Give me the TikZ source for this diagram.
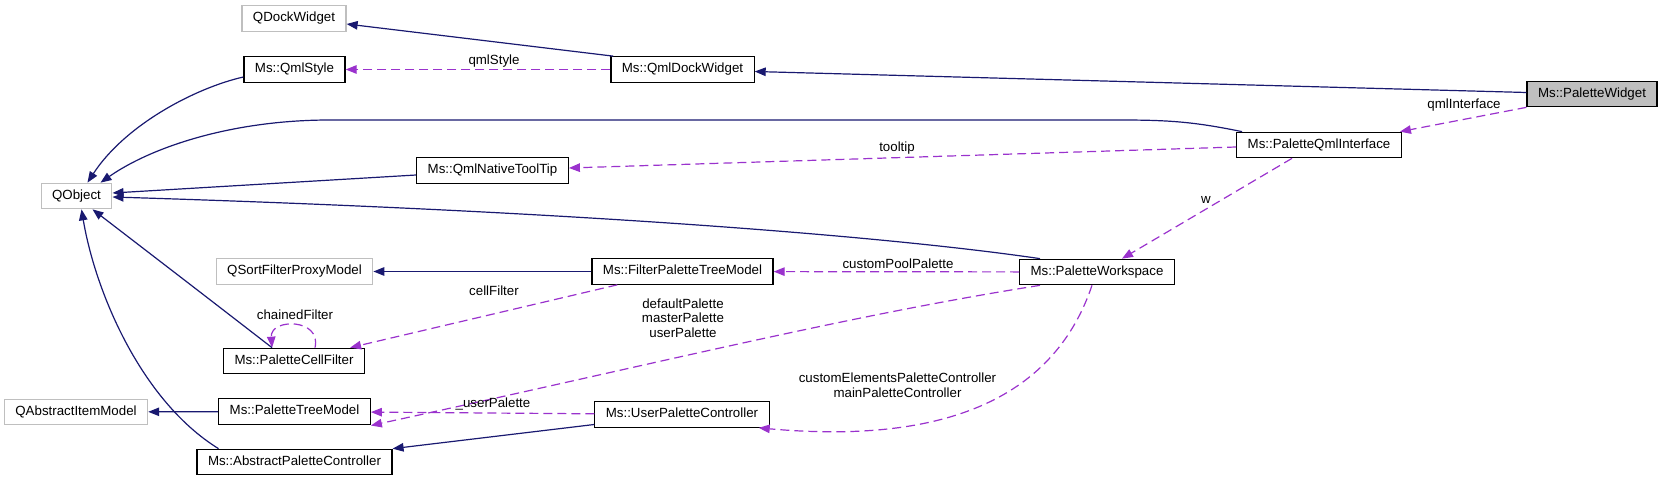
\documentclass[tikz,border=0pt]{standalone}
\usepackage{fontspec}
\setmainfont{Liberation Sans}
\usepackage{xcolor}
\usepackage{tikz}
\usetikzlibrary{arrows.meta}
\definecolor{navyedge}{HTML}{191970}
\definecolor{orchidedge}{HTML}{9A32CD}
\definecolor{greyline}{HTML}{BFBFBF}
\begin{document}
\begin{tikzpicture}[x=1pt, y=-1pt,
  cls/.style={draw=black, line width=1.2pt, fill=white,
    minimum height=25.5pt, inner xsep=11pt, inner ysep=1pt,
    text height=9.6pt, text depth=2.8pt, font=\fontsize{13.3}{15}\selectfont},
  extcls/.style={cls, draw=greyline},
  curcls/.style={cls, fill=greyline},
  inh/.style={-{Triangle[length=11pt,width=8.5pt]}, draw=navyedge, line width=1.2pt},
  mem/.style={-{Triangle[length=11pt,width=8.5pt]}, draw=orchidedge, line width=1.2pt,
    dash pattern=on 9pt off 5pt},
  lbl/.style={font=\fontsize{13.3}{14.5}\selectfont, align=center, inner sep=0pt},
]
\useasboundingbox (0,0) rectangle (1663,481);
\node[extcls] (qdock)        at (294,18.5)   {QDockWidget};
\node[cls]    (qmlstyle)     at (294.5,69.5) {Ms::QmlStyle};
\node[extcls] (qobject)      at (76.5,196)   {QObject};
\node[cls]    (nativetip)    at (492.5,170.5){Ms::QmlNativeToolTip};
\node[cls]    (qmldock)      at (682.5,69.5) {Ms::QmlDockWidget};
\node[curcls] (pwidget)      at (1592,94)    {Ms::PaletteWidget};
\node[cls]    (qmliface)     at (1319,145)   {Ms::PaletteQmlInterface};
\node[extcls] (sortproxy)    at (294.5,271.5){QSortFilterProxyModel};
\node[cls]    (cellfilter)   at (294,361)    {Ms::PaletteCellFilter};
\node[extcls] (itemmodel)    at (76,412)     {QAbstractItemModel};
\node[cls]    (treemodel)    at (294.5,411.5){Ms::PaletteTreeModel};
\node[cls]    (abstractctrl) at (294.5,462)  {Ms::AbstractPaletteController};
\node[cls]    (filtermodel)  at (682.5,271.5){Ms::FilterPaletteTreeModel};
\node[cls]    (userctrl)     at (682,414.5)  {Ms::UserPaletteController};
\node[cls]    (workspace)    at (1097,272)   {Ms::PaletteWorkspace};
\draw[inh] ([xshift=3pt]qmldock.north west) -- ([yshift=-5.5pt]qdock.east);
\draw[mem] (qmldock) -- (qmlstyle) node[lbl] at (494,61) {qmlStyle};
\draw[inh] ([yshift=-7.5pt]qmlstyle.west) .. controls (195,88) and (125,125) .. ([xshift=11pt]qobject.north);
\draw[inh] ([xshift=6pt]qmliface.north west) .. controls (1195,122) and (1170,120) .. (1120,120)
  -- (330,120) .. controls (230,120) and (150,148) .. ([xshift=24pt]qobject.north);
\draw[inh] ([yshift=-4.5pt]nativetip.west) -- ([yshift=3pt]qobject.east);
\draw[inh] ([xshift=21pt]workspace.north west) .. controls (900,238) and (600,212) .. ([yshift=-1pt]qobject.east);
\draw[mem] ([yshift=-2pt]qmliface.west) -- ([yshift=2.5pt]nativetip.east)
  node[lbl] at (897,148) {tooltip};
\draw[inh] ([yshift=1.5pt]pwidget.west) -- ([yshift=-2pt]qmldock.east);
\draw[mem] (pwidget.south west) -- ([xshift=-2pt]qmliface.north east)
  node[lbl] at (1464,105) {qmlInterface};
\draw[mem] ([xshift=-27pt]qmliface.south) -- ([xshift=25pt]workspace.north)
  node[lbl] at (1206,200) {w};
\draw[inh] (filtermodel) -- (sortproxy);
\draw[mem] (workspace) -- (filtermodel) node[lbl] at (898,264) {customPoolPalette};
\draw[mem] ([xshift=26pt]filtermodel.south west) -- ([xshift=-15pt]cellfilter.north east)
  node[lbl] at (494,291) {cellFilter};
\draw[mem] ([xshift=21pt]cellfilter.north) .. controls (322,318) and (270,318) .. ([xshift=-22pt]cellfilter.north)
  node[lbl] at (295,315) {chainedFilter};
\draw[inh] ([xshift=-22pt]cellfilter.north) .. controls (200,292) .. ([xshift=16pt]qobject.south);
\draw[mem] ([xshift=21pt]workspace.south west) .. controls (850,315) and (650,365) .. ([yshift=-14pt]treemodel.east)
  node[lbl] at (683,318) {defaultPalette\\masterPalette\\userPalette};
\draw[mem] (userctrl) -- (treemodel) node[lbl] at (493,404) {\_userPalette};
\draw[inh] (treemodel) -- (itemmodel);
\draw[inh] ([xshift=-76pt]abstractctrl.north) .. controls (140,400) and (95,290) .. ([xshift=5pt]qobject.south);
\draw[inh] ([yshift=-10pt]userctrl.west) -- (abstractctrl.north east);
\draw[mem] ([xshift=-5pt]workspace.south) .. controls (1055,395) and (950,445) .. ([xshift=-11pt]userctrl.south east)
  node[lbl] at (897.5,385) {customElementsPaletteController\\mainPaletteController};
\end{tikzpicture}
\end{document}
